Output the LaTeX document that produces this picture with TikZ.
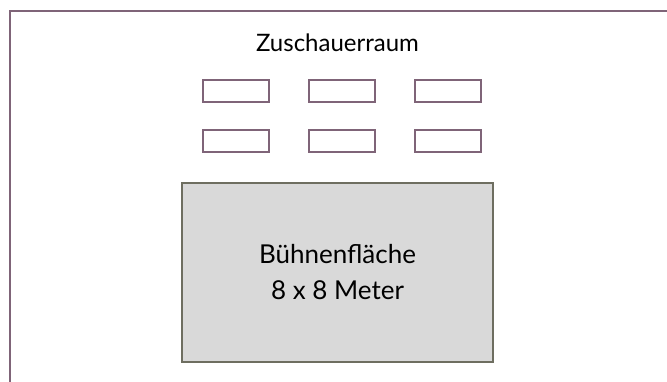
\documentclass[tikz,border=0pt]{standalone}
\usepackage{fontspec}
\setmainfont{Lato}
\definecolor{frameC}{HTML}{7F6478}
\definecolor{stageB}{HTML}{6E6E60}
\definecolor{stageF}{HTML}{D9D9D9}
\begin{document}
\begin{tikzpicture}[x=1pt,y=-1pt,
  seat/.style={draw=frameC,line width=2pt,minimum width=66pt,minimum height=22pt,inner sep=0pt},
  stagebox/.style={draw=stageB,fill=stageF,line width=2pt,minimum width=311pt,minimum height=179pt,align=center,font=\fontsize{26}{35}\selectfont},
  label/.style={font=\fontsize{24}{28}\selectfont}]
\useasboundingbox (0,0) rectangle (667,382);
\draw[frameC,line width=2pt] (10,390) -- (10,11) -- (670,11);
\node[label,anchor=base] (title) at (337.5,51.7) {Zuschauerraum};
\node[seat] (s11) at (235.5,91.5) {};
\node[seat] (s12) at (341.5,91.5) {};
\node[seat] (s13) at (447.5,91.5) {};
\node[seat] (s21) at (235.5,141) {};
\node[seat] (s22) at (341.5,141) {};
\node[seat] (s23) at (447.5,141) {};
\node[stagebox] (stage) at (337.5,272.3) {};
\node[font=\fontsize{26}{35}\selectfont,anchor=base] (l1) at (337.5,263.3) {Bühnenfläche};
\node[font=\fontsize{26}{35}\selectfont,anchor=base] (l2) at (337.5,299) {8 x 8 Meter};
\end{tikzpicture}
\end{document}
